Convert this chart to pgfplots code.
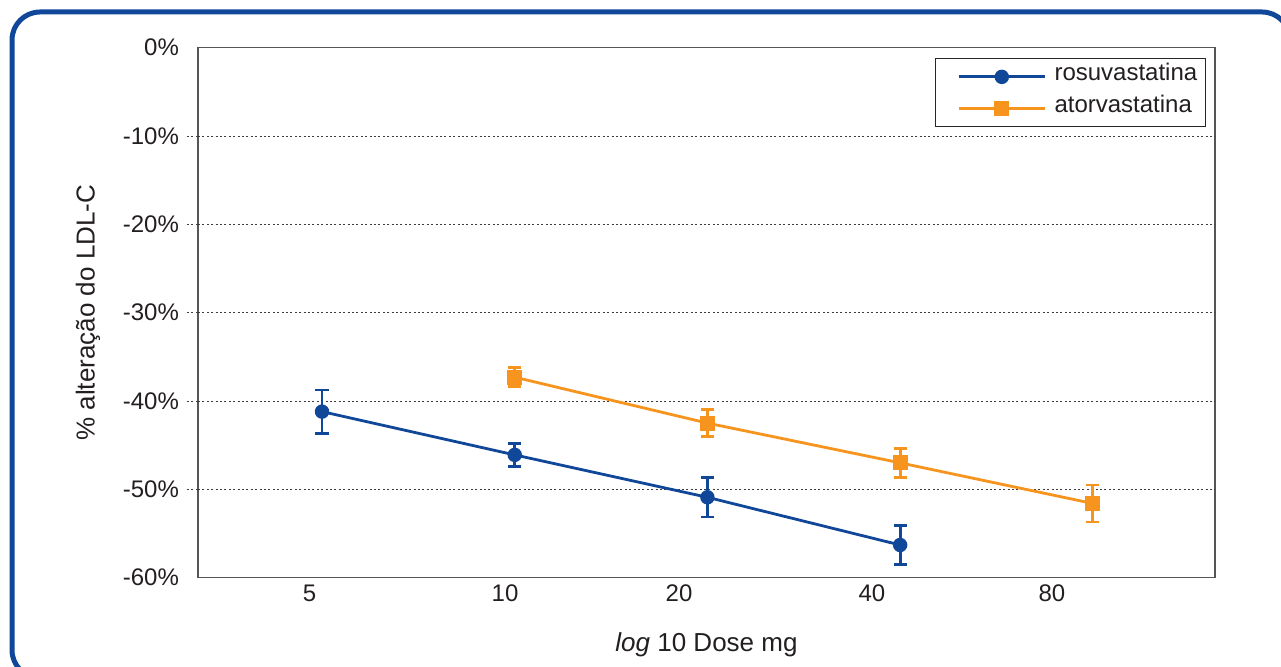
\documentclass[border=0pt]{standalone}
\usepackage{fontspec}
\setmainfont{Liberation Sans}
\usepackage{pgfplots}
\pgfplotsset{compat=1.18}

\definecolor{rosu}{RGB}{17,71,153}
\definecolor{ator}{RGB}{247,148,30}
\definecolor{txt}{RGB}{35,31,32}
\definecolor{boxgray}{RGB}{85,85,85}
\definecolor{gridgray}{RGB}{60,60,60}

\newcommand\chartfont{\fontsize{12}{14.4}\selectfont}
\newcommand\labelfont{\fontsize{13}{15.6}\selectfont}

\begin{document}
\begin{tikzpicture}
% page = 1281 x 667 px of the reference, 1 px = 0.5pt
\useasboundingbox (0,0) rectangle (640.5pt,333.5pt);
\draw[rosu, line width=2.5pt, rounded corners=14pt] (6pt,-5.5pt) rectangle (645pt,327.5pt);

\begin{axis}[
  at={(99pt,44.65pt)}, anchor=south west,
  scale only axis, width=508.5pt, height=265pt,
  % x = dose doublings from 5 mg (5,10,20,40,80)
  xmin=-0.6435, xmax=4.634, ymin=-60, ymax=0,
  axis line style={boxgray, line width=0.6pt},
  major tick length=0pt,
  ytick pos=left,
  xtick={-0.065,0.950,1.853,2.854,3.788},
  xticklabels={5,10,20,40,80},
  ytick={-60,-50,-40,-30,-20,-10,0},
  yticklabels={-60\%,-50\%,-40\%,-30\%,-20\%,-10\%,0\%},
  ytick style={gridgray, line width=0.5pt, dash pattern=on 1pt off 1.2pt},
  extra y ticks={-50,-40,-30,-20,-10},
  extra y tick labels={},
  extra y tick style={grid=major, tick align=outside, major tick length=5.5pt, ytick pos=left},
  major grid style={gridgray, line width=0.5pt, dash pattern=on 1pt off 1.2pt},
  tick label style={font=\chartfont, text=txt},
  yticklabel style={xshift=-6pt},
  label style={font=\labelfont, text=txt},
  xlabel={\textit{log} 10 Dose mg},
  ylabel={\% alteração do LDL-C},
  xlabel style={at={(axis description cs:0.5,-0.127)}, anchor=center},
  ylabel style={at={(axis description cs:-0.1082,0.5)}, anchor=center},
  legend cell align=left,
  legend style={at={(0.991,0.980)}, anchor=north east, draw=black!85,
    line width=0.6pt, inner xsep=3pt, inner ysep=3.45pt,
    row sep=4.9pt, column sep=3pt, font=\chartfont, text=txt,
    nodes={inner xsep=1pt, inner ysep=0pt, text height=7.15pt, text depth=3.95pt}},
  legend image code/.code={
    \path (-7.7pt,0pt);
    \draw[mark repeat=2, mark phase=2, #1]
      plot coordinates {(0pt,0pt) (21.65pt,0pt) (43.3pt,0pt)};
  },
]
\addplot[rosu, line width=1.4pt, mark=*, mark size=2.9pt, mark options={solid},
  error bars/.cd, y dir=both, y explicit,
  error bar style={line width=1.4pt},
  error mark options={rotate=90, mark size=3.3pt, line width=1.4pt}]
  coordinates {
    (0,-41.2) +- (0,2.45)
    (1,-46.1) +- (0,1.27)
    (2,-50.9) +- (0,2.23)
    (3,-56.3) +- (0,2.23)
  };
\addlegendentry{rosuvastatina}
\addplot[ator, line width=1.4pt, mark=square*, mark size=3.1pt, mark options={solid},
  error bars/.cd, y dir=both, y explicit,
  error bar style={line width=1.4pt},
  error mark options={rotate=90, mark size=3.3pt, line width=1.4pt}]
  coordinates {
    (1,-37.3) +- (0,1.1)
    (2,-42.5) +- (0,1.5)
    (3,-47.0) +- (0,1.64)
    (4,-51.6) +- (0,2.1)
  };
\addlegendentry{atorvastatina}
\end{axis}
\end{tikzpicture}
\end{document}
